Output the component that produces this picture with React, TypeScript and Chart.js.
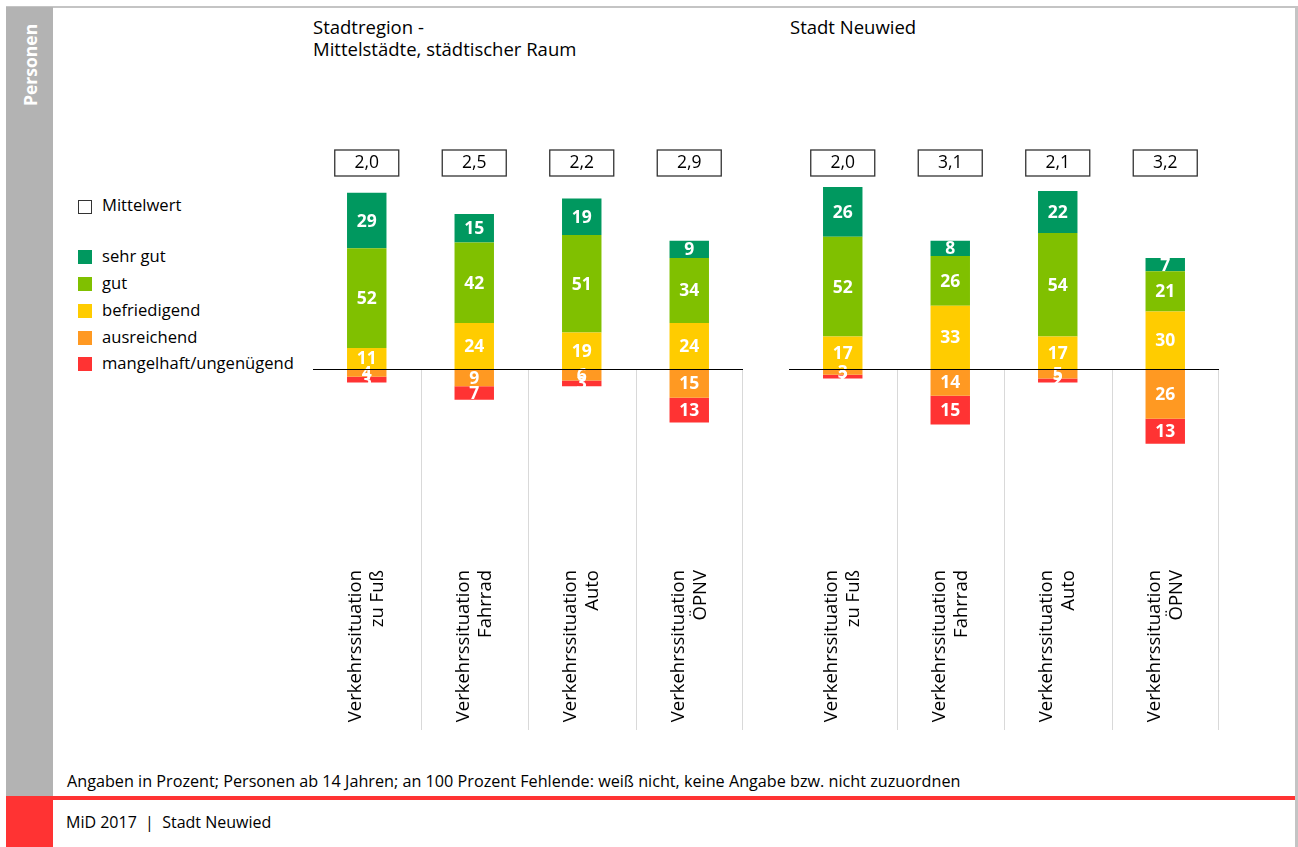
import React, { useEffect, useRef } from "react";
import { Chart, registerables } from "chart.js";
Chart.register(...registerables);

const FONT = "'Open Sans', 'Noto Sans', sans-serif";

const categoryLines = [
  ["Verkehrssituation", "zu Fuß"],
  ["Verkehrssituation", "Fahrrad"],
  ["Verkehrssituation", "Auto"],
  ["Verkehrssituation", "ÖPNV"],
];
const seriesNames = ["sehr gut", "gut", "befriedigend", "ausreichend", "mangelhaft/ungenügend"];
const seriesColors = ["#00985f", "#80c000", "#ffcc00", "#ff9922", "#ff3333"];

const regionTitle = ["Stadtregion -", "Mittelstädte, städtischer Raum"];
const regionSehrGut = [29, 15, 19, 9];
const regionGut = [52, 42, 51, 34];
const regionBefriedigend = [11, 24, 19, 24];
const regionAusreichend = [4, 9, 6, 15];
const regionMangelhaft = [3, 7, 3, 13];
const regionMittelwert = ["2,0", "2,5", "2,2", "2,9"];

const cityTitle = ["Stadt Neuwied"];
const citySehrGut = [26, 8, 22, 7];
const cityGut = [52, 26, 54, 21];
const cityBefriedigend = [17, 33, 17, 30];
const cityAusreichend = [3, 14, 5, 26];
const cityMangelhaft = [2, 15, 2, 13];
const cityMittelwert = ["2,0", "3,1", "2,1", "3,2"];

const yMin = -100;
const yMax = 100;

type Group = {
  sehrGut: number[];
  gut: number[];
  befriedigend: number[];
  ausreichend: number[];
  mangelhaft: number[];
  mittelwert: string[];
};

const overlayPlugin = {
  id: "overlay",
  afterDatasetsDraw(chart: any) {
    const ctx = chart.ctx;
    const xs = chart.scales.x;
    const ys = chart.scales.y;
    const area = chart.chartArea;
    const y0 = ys.getPixelForValue(0);
    const n = chart.data.labels.length;
    const means: string[] = chart.options.plugins.overlay.means;
    ctx.save();
    // value labels
    ctx.font = "bold 17.5px " + FONT;
    ctx.fillStyle = "#ffffff";
    ctx.textAlign = "center";
    ctx.textBaseline = "middle";
    chart.data.datasets.forEach((ds: any, di: number) => {
      const meta = chart.getDatasetMeta(di);
      meta.data.forEach((bar: any, i: number) => {
        const v = ds.data[i];
        if (!v) return;
        const cy = (bar.y + bar.base) / 2;
        ctx.fillText(String(Math.abs(v)), bar.x, cy + 1);
      });
    });
    // baseline
    ctx.strokeStyle = "#000000";
    ctx.lineWidth = 1;
    ctx.beginPath();
    ctx.moveTo(area.left, Math.round(y0) + 0.5);
    ctx.lineTo(area.right, Math.round(y0) + 0.5);
    ctx.stroke();
    // vertical separators
    ctx.strokeStyle = "#d9d9d9";
    for (let i = 0; i < n; i++) {
      const xr = i < n - 1 ? (xs.getPixelForValue(i) + xs.getPixelForValue(i + 1)) / 2 : area.right - 1;
      ctx.beginPath();
      ctx.moveTo(Math.round(xr) + 0.5, y0 + 1);
      ctx.lineTo(Math.round(xr) + 0.5, y0 + 361);
      ctx.stroke();
    }
    // mean boxes
    ctx.font = "17.5px " + FONT;
    for (let i = 0; i < n; i++) {
      const cx = xs.getPixelForValue(i);
      const top = y0 - 219;
      ctx.fillStyle = "#ffffff";
      ctx.fillRect(cx - 32, top, 64, 26);
      ctx.strokeStyle = "#333333";
      ctx.lineWidth = 1.3;
      ctx.strokeRect(cx - 32, top, 64, 26);
      ctx.fillStyle = "#000000";
      ctx.fillText(means[i], cx, top + 13.5);
    }
    // category labels (rotated)
    ctx.font = "18.5px " + FONT;
    ctx.fillStyle = "#000000";
    for (let i = 0; i < n; i++) {
      const cx = xs.getPixelForValue(i);
      const lines: string[] = chart.data.labels[i];
      ctx.save();
      ctx.translate(cx, y0 + 201);
      ctx.rotate(-Math.PI / 2);
      ctx.textAlign = "right";
      ctx.textBaseline = "middle";
      lines.forEach((t, li) => {
        ctx.fillText(t, 0, -11 + li * 22);
      });
      ctx.restore();
    }
    ctx.restore();
  },
};

function GroupChart({ g, left }: { g: Group; left: number }) {
  const ref = useRef<HTMLCanvasElement | null>(null);
  useEffect(() => {
    if (!ref.current) return;
    const chart = new Chart(ref.current, {
      type: "bar",
      data: {
        labels: categoryLines as any,
        datasets: [
          { label: seriesNames[2], data: g.befriedigend, backgroundColor: seriesColors[2] },
          { label: seriesNames[1], data: g.gut, backgroundColor: seriesColors[1] },
          { label: seriesNames[0], data: g.sehrGut, backgroundColor: seriesColors[0] },
          { label: seriesNames[3], data: g.ausreichend.map((v) => -v), backgroundColor: seriesColors[3] },
          { label: seriesNames[4], data: g.mangelhaft.map((v) => -v), backgroundColor: seriesColors[4] },
        ],
      },
      options: {
        animation: false,
        responsive: false,
        maintainAspectRatio: false,
        layout: { padding: { top: 37.5, bottom: 179.5, left: 0, right: 0 } },
        datasets: { bar: { barPercentage: 0.367, categoryPercentage: 1, borderWidth: 0 } },
        scales: {
          x: { display: false, stacked: true, offset: true, grid: { display: false } },
          y: { display: false, stacked: true, min: yMin, max: yMax, grid: { display: false } },
        },
        plugins: {
          legend: { display: false },
          tooltip: { enabled: false },
          overlay: { means: g.mittelwert },
        } as any,
      },
      plugins: [overlayPlugin],
    });
    return () => chart.destroy();
  }, []);
  return (
    <canvas
      ref={ref}
      width={430}
      height={600}
      style={{ position: "absolute", left, top: 140, width: 430, height: 600 }}
    />
  );
}

const legendRows = [
  { y: 257, i: 0 },
  { y: 284, i: 1 },
  { y: 311, i: 2 },
  { y: 338, i: 3 },
  { y: 364, i: 4 },
];

export default function App() {
  useEffect(() => {
    document.body.style.margin = "0";
  }, []);
  const txt: React.CSSProperties = { position: "absolute", fontFamily: FONT, color: "#000", whiteSpace: "nowrap" };
  return (
    <div style={{ position: "relative", width: 1298, height: 847, overflow: "hidden", background: "#fff", fontFamily: FONT }}>
      {/* frame */}
      <div style={{ position: "absolute", left: 6, top: 6, width: 1292, height: 2, background: "#c4c4c4" }} />
      <div style={{ position: "absolute", left: 1295, top: 6, width: 3, height: 841, background: "#c4c4c4" }} />
      <div style={{ position: "absolute", left: 6, top: 7, width: 47, height: 789, background: "#b3b3b3" }} />
      <div style={{ position: "absolute", left: 6, top: 796, width: 47, height: 51, background: "#ff3333" }} />
      <div style={{ position: "absolute", left: 53, top: 796, width: 1242, height: 4, background: "#ff3333" }} />
      <div
        style={{
          position: "absolute",
          left: 19,
          top: 106,
          transform: "rotate(-90deg)",
          transformOrigin: "0 0",
          fontWeight: 700,
          fontSize: 17.5,
          lineHeight: "22px",
          color: "#fff",
          whiteSpace: "nowrap",
        }}
      >
        Personen
      </div>
      {/* titles */}
      <div style={{ ...txt, left: 313, top: 16, fontSize: 18.5, lineHeight: "22px" }}>
        {regionTitle.map((t, i) => (
          <div key={i}>{t}</div>
        ))}
      </div>
      <div style={{ ...txt, left: 790, top: 16, fontSize: 18.5, lineHeight: "22px" }}>
        {cityTitle.map((t, i) => (
          <div key={i}>{t}</div>
        ))}
      </div>
      {/* legend */}
      <div style={{ position: "absolute", left: 78, top: 200, width: 12, height: 12, border: "1px solid #333", background: "#fff" }} />
      <div style={{ ...txt, left: 102, top: 194, fontSize: 16.6, lineHeight: "22px" }}>Mittelwert</div>
      {legendRows.map((r) => (
        <React.Fragment key={r.i}>
          <div style={{ position: "absolute", left: 78, top: r.y - 7, width: 14, height: 14, background: seriesColors[r.i] }} />
          <div style={{ ...txt, left: 102, top: r.y - 12, fontSize: 16.6, lineHeight: "22px" }}>{seriesNames[r.i]}</div>
        </React.Fragment>
      ))}
      {/* charts */}
      <GroupChart
        left={313}
        g={{
          sehrGut: regionSehrGut,
          gut: regionGut,
          befriedigend: regionBefriedigend,
          ausreichend: regionAusreichend,
          mangelhaft: regionMangelhaft,
          mittelwert: regionMittelwert,
        }}
      />
      <GroupChart
        left={789}
        g={{
          sehrGut: citySehrGut,
          gut: cityGut,
          befriedigend: cityBefriedigend,
          ausreichend: cityAusreichend,
          mangelhaft: cityMangelhaft,
          mittelwert: cityMittelwert,
        }}
      />
      {/* footer */}
      <div style={{ ...txt, left: 67, top: 771, fontSize: 16.2, lineHeight: "20px" }}>
        Angaben in Prozent; Personen ab 14 Jahren; an 100 Prozent Fehlende: weiß nicht, keine Angabe bzw. nicht zuzuordnen
      </div>
      <div style={{ ...txt, left: 66, top: 812, fontSize: 16, lineHeight: "20px" }}>MiD 2017 &nbsp;|&nbsp; Stadt Neuwied</div>
    </div>
  );
}
